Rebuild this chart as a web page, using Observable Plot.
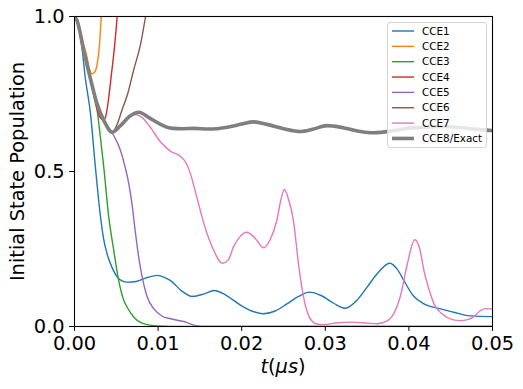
<!DOCTYPE html>
<html>
<head>
<meta charset="utf-8">
<script src="https://cdn.jsdelivr.net/npm/d3@7"></script>
<script src="https://cdn.jsdelivr.net/npm/@observablehq/plot@0.6"></script>
<style>
  html, body { margin: 0; padding: 0; background: white; }
  #wrap { position: relative; width: 523px; height: 389px; font-family: "DejaVu Sans", sans-serif; }
  #legend { position: absolute; left: 387px; top: 22px; width: 98px; height: 124px;
            background: rgba(255,255,255,0.8); border: 1px solid #d4d4d4; border-radius: 3px; }
</style>
</head>
<body>
<div id="wrap"></div>
<script>
// ---- data (t in µs, population) ----
const seriesNames = ["CCE1","CCE2","CCE3","CCE4","CCE5","CCE6","CCE7","CCE8/Exact"];
const seriesColors = ["#1f77b4","#ff7f0e","#2ca02c","#d62728","#9467bd","#8c564b","#e377c2","#7f7f7f"];
const xTicks = [0, 0.01, 0.02, 0.03, 0.04, 0.05];
const yTicks = [0, 0.5, 1.0];

const cce1 = [[0,1],[0.0003,0.985],[0.0008,0.92],[0.0013,0.80],[0.0019,0.69],[0.0025,0.514],[0.0031,0.356],[0.0035,0.28],[0.0039,0.234],[0.0045,0.19],[0.0051,0.16],[0.0057,0.147],[0.0063,0.143],[0.0075,0.146],[0.0087,0.158],[0.0099,0.165],[0.0108,0.158],[0.0115,0.148],[0.0128,0.115],[0.0141,0.097],[0.0155,0.105],[0.0167,0.116],[0.0180,0.103],[0.0199,0.068],[0.0212,0.05],[0.0226,0.041],[0.0240,0.05],[0.0254,0.073],[0.0268,0.097],[0.0281,0.111],[0.0295,0.1],[0.0310,0.075],[0.0324,0.059],[0.0338,0.085],[0.0350,0.127],[0.0362,0.17],[0.0377,0.204],[0.0386,0.185],[0.0394,0.148],[0.0405,0.1],[0.0418,0.073],[0.0438,0.057],[0.0455,0.045],[0.0470,0.035],[0.0498,0.032],[0.05,0.032]];
const cce2 = [[0,1],[0.0003,0.985],[0.0007,0.955],[0.0011,0.91],[0.0015,0.869],[0.0018,0.83],[0.0021,0.815],[0.0024,0.82],[0.0027,0.845],[0.0030,0.912],[0.0032,1.0],[0.0034,1.1]];
const cce3 = [[0,1],[0.0003,0.987],[0.0011,0.89],[0.0019,0.80],[0.0027,0.70],[0.0031,0.61],[0.0035,0.514],[0.0041,0.353],[0.0047,0.245],[0.0052,0.16],[0.0059,0.084],[0.0063,0.062],[0.0071,0.03],[0.0079,0.013],[0.0087,0.006],[0.0099,0.002],[0.0115,0.0005],[0.05,0]];
const cce4 = [[0,1],[0.0003,0.987],[0.0011,0.89],[0.0019,0.80],[0.0027,0.70],[0.0031,0.672],[0.0035,0.665],[0.0038,0.685],[0.0041,0.74],[0.0044,0.81],[0.0047,0.88],[0.0051,1.0],[0.0053,1.08]];
const cce5 = [[0,1],[0.0003,0.987],[0.0011,0.89],[0.0019,0.80],[0.0027,0.718],[0.0035,0.665],[0.0045,0.625],[0.0050,0.60],[0.0055,0.568],[0.0060,0.52],[0.0065,0.46],[0.0069,0.39],[0.0073,0.30],[0.0077,0.22],[0.0081,0.159],[0.0087,0.095],[0.0095,0.057],[0.0105,0.033],[0.0115,0.025],[0.0123,0.02],[0.0131,0.016],[0.0138,0.009],[0.0145,0.003],[0.016,0],[0.05,0]];
const cce6 = [[0,1],[0.0003,0.987],[0.0011,0.89],[0.0019,0.80],[0.0027,0.718],[0.0035,0.665],[0.0045,0.627],[0.0051,0.652],[0.0057,0.70],[0.0063,0.745],[0.0071,0.83],[0.0079,0.91],[0.0085,1.0],[0.0088,1.05]];
const cce7 = [[0,1],[0.0003,0.987],[0.0011,0.89],[0.0019,0.80],[0.0027,0.718],[0.0035,0.665],[0.0045,0.627],[0.0055,0.645],[0.0065,0.675],[0.0073,0.684],[0.0080,0.676],[0.0090,0.645],[0.0103,0.595],[0.0115,0.565],[0.0127,0.548],[0.0134,0.525],[0.0139,0.49],[0.0147,0.41],[0.0155,0.33],[0.0165,0.255],[0.0177,0.204],[0.0184,0.215],[0.0190,0.256],[0.0198,0.29],[0.0206,0.304],[0.0216,0.285],[0.0226,0.254],[0.0234,0.28],[0.0242,0.342],[0.0247,0.41],[0.0251,0.442],[0.0256,0.41],[0.0262,0.34],[0.0268,0.2],[0.0274,0.095],[0.0282,0.025],[0.0290,0.008],[0.0298,0.006],[0.0315,0.012],[0.0330,0.014],[0.0350,0.011],[0.0362,0.009],[0.0374,0.018],[0.0382,0.042],[0.0390,0.1],[0.0398,0.2],[0.0407,0.28],[0.0413,0.25],[0.0418,0.18],[0.0424,0.12],[0.0430,0.073],[0.0440,0.04],[0.0452,0.022],[0.0462,0.019],[0.0470,0.022],[0.0477,0.03],[0.0485,0.05],[0.0490,0.057],[0.0500,0.057]];
const cce8 = [[0,1],[0.0003,0.987],[0.0011,0.89],[0.0019,0.80],[0.0027,0.718],[0.0035,0.665],[0.0045,0.627],[0.0055,0.648],[0.0066,0.678],[0.0077,0.691],[0.0090,0.672],[0.0103,0.652],[0.0115,0.640],[0.0130,0.638],[0.0143,0.639],[0.0160,0.637],[0.0183,0.643],[0.0200,0.653],[0.0214,0.660],[0.0230,0.652],[0.0250,0.638],[0.0270,0.629],[0.0285,0.636],[0.0302,0.648],[0.0320,0.642],[0.0340,0.630],[0.0358,0.625],[0.0382,0.632],[0.0400,0.640],[0.0420,0.643],[0.0440,0.645],[0.0460,0.642],[0.0480,0.636],[0.0500,0.632]];

const allSeries = [cce1, cce2, cce3, cce4, cce5, cce6, cce7, cce8];
const lineWidths = [1.4, 1.4, 1.4, 1.4, 1.4, 1.4, 1.4, 3.6];

const FS = 19.4;
const marks = allSeries.map((s, i) => Plot.line(s, {
  x: d => d[0], y: d => d[1], stroke: seriesColors[i], strokeWidth: lineWidths[i],
  curve: "monotone-x", clip: true
}));

const plot = Plot.plot({
  width: 523, height: 389,
  marginLeft: 74, marginRight: 31, marginTop: 16, marginBottom: 63,
  style: { fontFamily: "DejaVu Sans, sans-serif", fontSize: FS + "px", background: "white", color: "black" },
  x: { domain: [0, 0.05] },
  y: { domain: [0, 1] },
  marks: [
    ...marks,
    Plot.frame({ stroke: "black", strokeWidth: 1.1 }),
    Plot.axisX({ ticks: xTicks, tickFormat: d3.format(".2f"), tickSize: 4.9, tickPadding: 4.9, label: null, fontSize: FS }),
    Plot.axisY({ ticks: yTicks, tickFormat: d3.format(".1f"), tickSize: 4.9, tickPadding: 4.9, label: null, fontSize: FS }),
    Plot.text(["Initial State Population"], { frameAnchor: "left", textAnchor: "middle", dx: -57, rotate: -90, fontSize: FS, fill: "black" })
  ]
});

const svg = d3.select(plot);
const xl = svg.append("text")
  .attr("x", (74 + 492) / 2).attr("y", 373)
  .attr("text-anchor", "middle")
  .attr("font-size", FS).attr("fill", "black").attr("font-family", "DejaVu Sans, sans-serif");
xl.append("tspan").attr("font-style", "italic").text("t");
xl.append("tspan").text("(");
xl.append("tspan").attr("font-style", "italic").text("μs");
xl.append("tspan").text(")");

const wrap = document.getElementById("wrap");
wrap.appendChild(plot);

// legend
const leg = document.createElement("div");
leg.id = "legend";
const ns = "http://www.w3.org/2000/svg";
const ls = document.createElementNS(ns, "svg");
ls.setAttribute("width", 98); ls.setAttribute("height", 124);
seriesNames.forEach((name, i) => {
  const cy = 8 + i * 15.35;
  const ln = document.createElementNS(ns, "line");
  ln.setAttribute("x1", 4); ln.setAttribute("x2", 26);
  ln.setAttribute("y1", cy); ln.setAttribute("y2", cy);
  ln.setAttribute("stroke", seriesColors[i]);
  ln.setAttribute("stroke-width", lineWidths[i]);
  ls.appendChild(ln);
  const tx = document.createElementNS(ns, "text");
  tx.setAttribute("x", 34); tx.setAttribute("y", cy);
  tx.setAttribute("dy", "0.36em");
  tx.setAttribute("font-size", 10.4);
  tx.setAttribute("font-family", "DejaVu Sans, sans-serif");
  tx.setAttribute("fill", "black");
  tx.textContent = name;
  ls.appendChild(tx);
});
leg.appendChild(ls);
wrap.appendChild(leg);
</script>
</body>
</html>
